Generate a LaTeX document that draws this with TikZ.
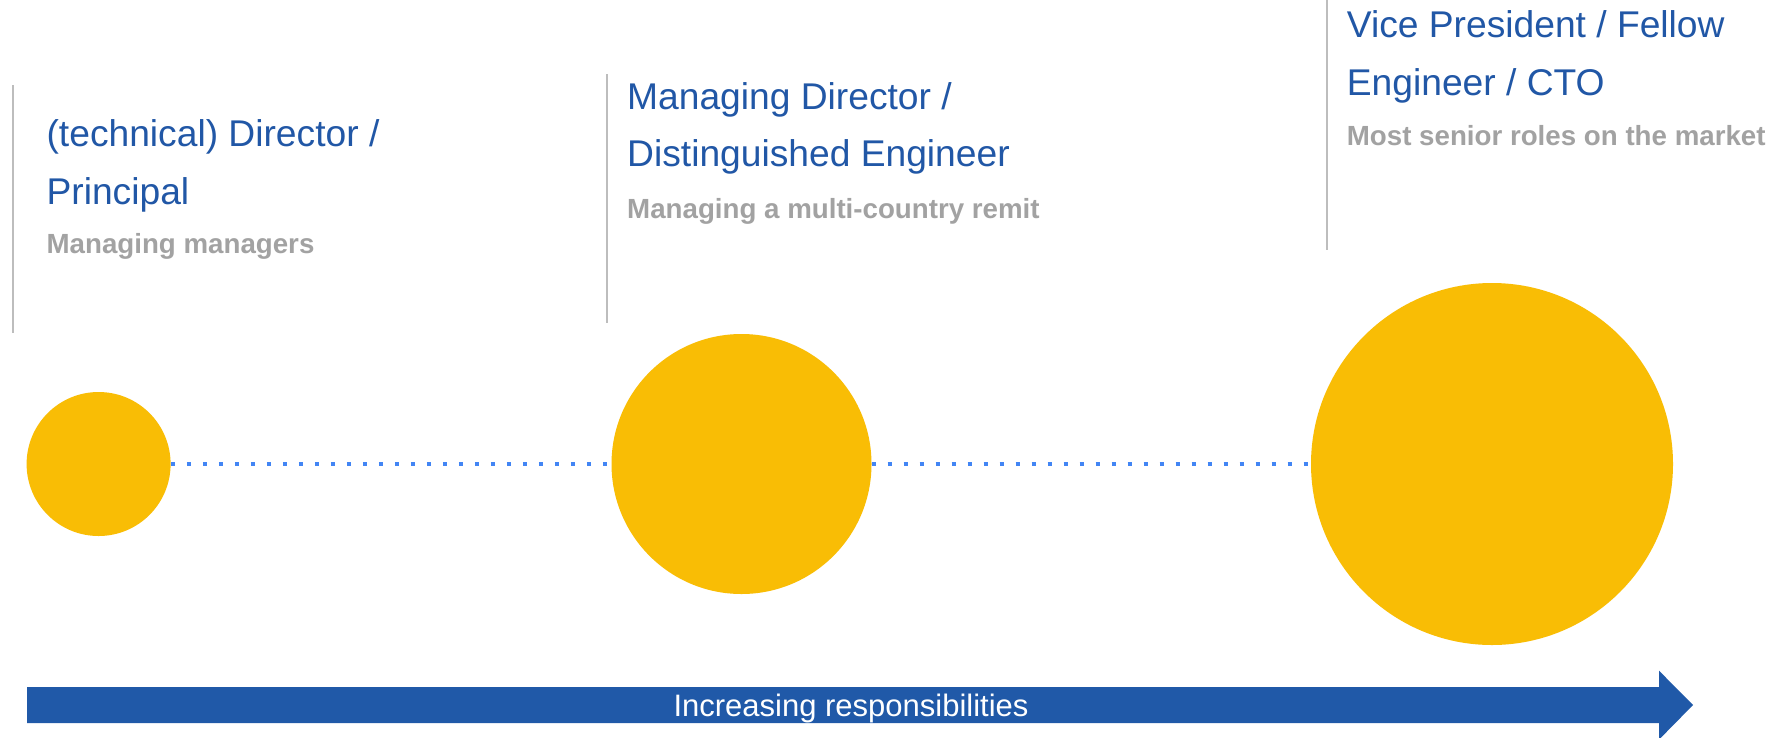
\documentclass[tikz,border=0pt]{standalone}
\usepackage{fontspec}
\setmainfont{Liberation Sans}
\definecolor{titleblue}{HTML}{2157A6}
\definecolor{arrowblue}{HTML}{2059A8}
\definecolor{subgray}{HTML}{A2A2A2}
\definecolor{linegray}{HTML}{BDBDBD}
\definecolor{gold}{HTML}{F9BD05}
\definecolor{dotblue}{HTML}{4285F4}
\begin{document}
\begin{tikzpicture}[x=1pt,y=-1pt,
  title/.style={anchor=base west,inner sep=0pt,text=titleblue,font=\fontsize{37.2pt}{40pt}\selectfont},
  sub/.style={anchor=base west,inner sep=0pt,text=subgray,font=\fontsize{27.7pt}{30pt}\selectfont\bfseries},
  dot/.style={circle,fill=gold,draw=none,inner sep=0pt},
  dotline/.style={dotblue,line width=4pt,dash pattern=on 4pt off 12pt},
  rule/.style={linegray,line width=2pt}]
\useasboundingbox[fill=white] (0,0) rectangle (1776,737);
% vertical rules
\draw[rule] (12.5,85) -- (12.5,333);
\draw[rule] (607,74) -- (607,323);
\draw[rule] (1327,0) -- (1327,250);
% texts
\node[title] (t1a) at (46.4,146.7) {(technical) Director /};
\node[title] (t1b) at (46.4,204) {Principal};
\node[sub]   (s1)  at (46.4,253) {Managing managers};
\node[title] (t2a) at (627,109.3) {Managing Director /};
\node[title] (t2b) at (627,166.7) {Distinguished Engineer};
\node[sub]   (s2)  at (627,218) {Managing a multi-country remit};
\node[title] (t3a) at (1346.7,37.3) {Vice President / Fellow};
\node[title] (t3b) at (1346.7,95.7) {Engineer / CTO};
\node[sub]   (s3)  at (1346.7,145) {Most senior roles on the market};
% circles
\node[dot,minimum size=144pt] (c1) at (98.6,464) {};
\node[dot,minimum size=260pt] (c2) at (741.5,464) {};
\node[dot,minimum size=362pt] (c3) at (1492,464) {};
\draw[dotline] (c1.east) -- (c2.west);
\draw[dotline] (c2.east) -- (c3.west);
% arrow
\fill[arrowblue] (27,687) -- (1659,687) -- (1659,670.7) -- (1693,705) -- (1659,739.6) -- (1659,723) -- (27,723) -- cycle;
\node[inner sep=0pt,text=white,font=\fontsize{31pt}{34pt}\selectfont,anchor=base] (arr) at (851,716.3) {Increasing responsibilities};
\end{tikzpicture}
\end{document}
